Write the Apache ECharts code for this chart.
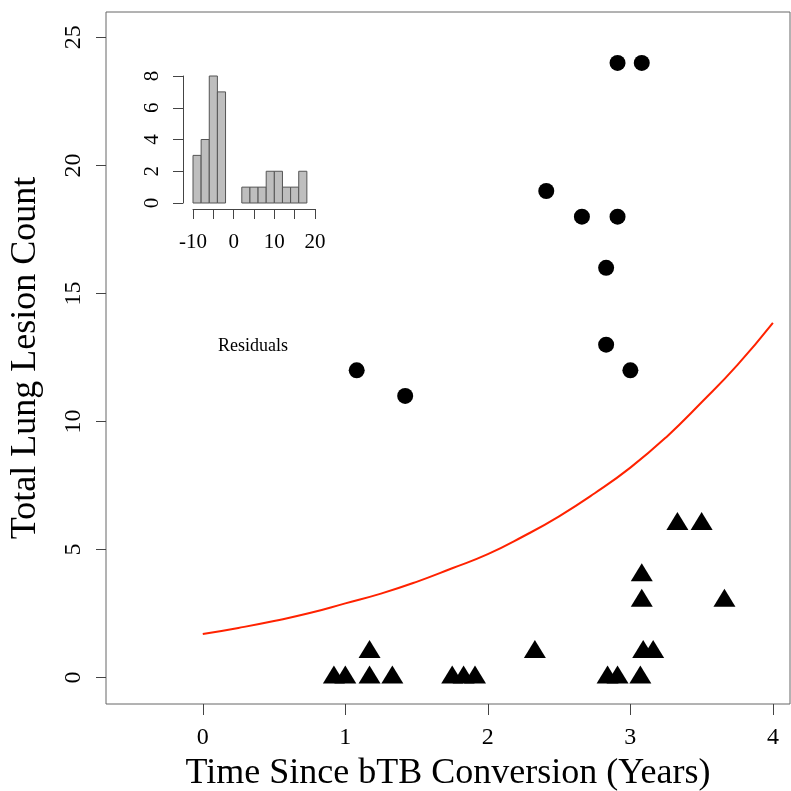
<!DOCTYPE html>
<html>
<head>
<meta charset="utf-8">
<script src="https://cdn.jsdelivr.net/npm/echarts@6.0.0/dist/echarts.min.js"></script>
<style>html,body{margin:0;padding:0;background:#fff}#c{width:791px;height:791px}</style>
</head>
<body>
<div id="c"></div>
<script>
// Main scatter: infected (circles) and non-infected (triangles)
const circlesX = [1.08, 1.42, 2.41, 2.66, 2.91, 2.83, 2.83, 3.00, 2.91, 3.08];
const circlesY = [12, 11, 19, 18, 18, 16, 13, 12, 24, 24];
const trianglesX = [0.92, 1.00, 1.17, 1.17, 1.33, 1.75, 1.83, 1.91, 2.33, 2.84, 2.91, 3.07, 3.09, 3.16, 3.08, 3.08, 3.33, 3.50, 3.66];
const trianglesY = [0, 0, 0, 1, 0, 0, 0, 0, 1, 0, 0, 0, 1, 1, 3, 4, 6, 6, 3];
// Fitted curve
const curveX = [0, 0.25, 0.5, 0.75, 1, 1.25, 1.5, 1.75, 2, 2.25, 2.5, 2.75, 3, 3.25, 3.5, 3.75, 4];
const curveY = [1.70, 1.94, 2.21, 2.52, 2.90, 3.28, 3.74, 4.27, 4.82, 5.52, 6.30, 7.20, 8.20, 9.38, 10.75, 12.20, 13.85];
// Main axis tick labels
const xTicks = [0, 1, 2, 3, 4];
const yTicks = [0, 5, 10, 15, 20, 25];
// Inset histogram of residuals
const binStart = [-10, -8, -6, -4, -2, 0, 2, 4, 6, 8, 10, 12, 14, 16];
const binEnd = [-8, -6, -4, -2, 0, 2, 4, 6, 8, 10, 12, 14, 16, 18];
const binCount = [3, 4, 8, 7, 0, 0, 1, 1, 1, 2, 2, 1, 1, 2];
const histXTicks = [-10, -5, 0, 5, 10, 15, 20];
const histXLabels = [-10, 0, 10, 20];
const histYTicks = [0, 2, 4, 6, 8];

const FONT = 'Liberation Serif';
const chart = echarts.init(document.getElementById('c'), null, {renderer: 'canvas'});

const histData = binStart.map((s, i) => [s, binEnd[i], binCount[i]]).filter(d => d[2] > 0);

chart.setOption({
  animation: false,
  backgroundColor: '#fff',
  grid: [
    {left: 106, top: 12, width: 684, height: 692, show: true, borderColor: '#666', borderWidth: 1,
     backgroundColor: 'transparent', containLabel: false, outerBoundsMode: 'none'},
    {left: 193, top: 76, width: 122, height: 127, containLabel: false, outerBoundsMode: 'none'}
  ],
  xAxis: [
    {gridIndex: 0, type: 'value', min: -0.679, max: 4.12,
     axisLine: {show: false, onZero: false}, splitLine: {show: false},
     axisTick: {show: true, length: 11, lineStyle: {color: '#444'}, customValues: xTicks},
     axisLabel: {color: '#000', fontFamily: FONT, fontSize: 24, margin: 22, customValues: xTicks},
     name: 'Time Since bTB Conversion (Years)', nameLocation: 'middle', nameGap: 52,
     nameTextStyle: {color: '#000', fontFamily: FONT, fontSize: 36}},
    {gridIndex: 1, type: 'value', min: -10, max: 20, offset: 6,
     axisLine: {show: true, onZero: false, lineStyle: {color: '#444'}}, splitLine: {show: false},
     axisTick: {show: true, length: 10, lineStyle: {color: '#444'}, customValues: histXTicks},
     axisLabel: {color: '#000', fontFamily: FONT, fontSize: 21, margin: 23, customValues: histXLabels}}
  ],
  yAxis: [
    {gridIndex: 0, type: 'value', min: -1.03, max: 25.99,
     axisLine: {show: false, onZero: false}, splitLine: {show: false},
     axisTick: {show: true, length: 10, lineStyle: {color: '#444'}, customValues: yTicks},
     axisLabel: {color: '#000', fontFamily: FONT, fontSize: 24, margin: 20, rotate: 90, customValues: yTicks},
     name: 'Total Lung Lesion Count', nameLocation: 'middle', nameGap: 62, nameRotate: 90,
     nameTextStyle: {color: '#000', fontFamily: FONT, fontSize: 36}},
    {gridIndex: 1, type: 'value', min: 0, max: 8, offset: 10,
     axisLine: {show: true, onZero: false, lineStyle: {color: '#444'}}, splitLine: {show: false},
     axisTick: {show: true, length: 10, lineStyle: {color: '#444'}, customValues: histYTicks},
     axisLabel: {color: '#000', fontFamily: FONT, fontSize: 21, margin: 20, rotate: 90, customValues: histYTicks}}
  ],
  graphic: [
    {type: 'text', left: 218, top: 337, style: {text: 'Residuals', font: '18px "Liberation Serif"', fill: '#000'}}
  ],
  series: [
    {type: 'line', xAxisIndex: 0, yAxisIndex: 0, data: curveX.map((x, i) => [x, curveY[i]]),
     smooth: true, showSymbol: false, lineStyle: {color: '#ff2200', width: 2}, z: 2},
    {type: 'scatter', xAxisIndex: 0, yAxisIndex: 0, data: circlesX.map((x, i) => [x, circlesY[i]]),
     symbol: 'circle', symbolSize: 16, itemStyle: {color: '#000', opacity: 1}, z: 3},
    {type: 'scatter', xAxisIndex: 0, yAxisIndex: 0, data: trianglesX.map((x, i) => [x, trianglesY[i]]),
     symbol: 'triangle', symbolSize: [22, 18], symbolOffset: [0, -3], itemStyle: {color: '#000', opacity: 1}, z: 3},
    {type: 'custom', xAxisIndex: 1, yAxisIndex: 1, data: histData, encode: {x: [0, 1], y: 2},
     renderItem: function (params, api) {
       const p0 = api.coord([api.value(0), api.value(2)]);
       const p1 = api.coord([api.value(1), 0]);
       return {type: 'rect', shape: {x: p0[0], y: p0[1], width: p1[0] - p0[0], height: p1[1] - p0[1]},
               style: {fill: '#bebebe', stroke: '#555', lineWidth: 1}};
     }, z: 4}
  ]
});
</script>
</body>
</html>
